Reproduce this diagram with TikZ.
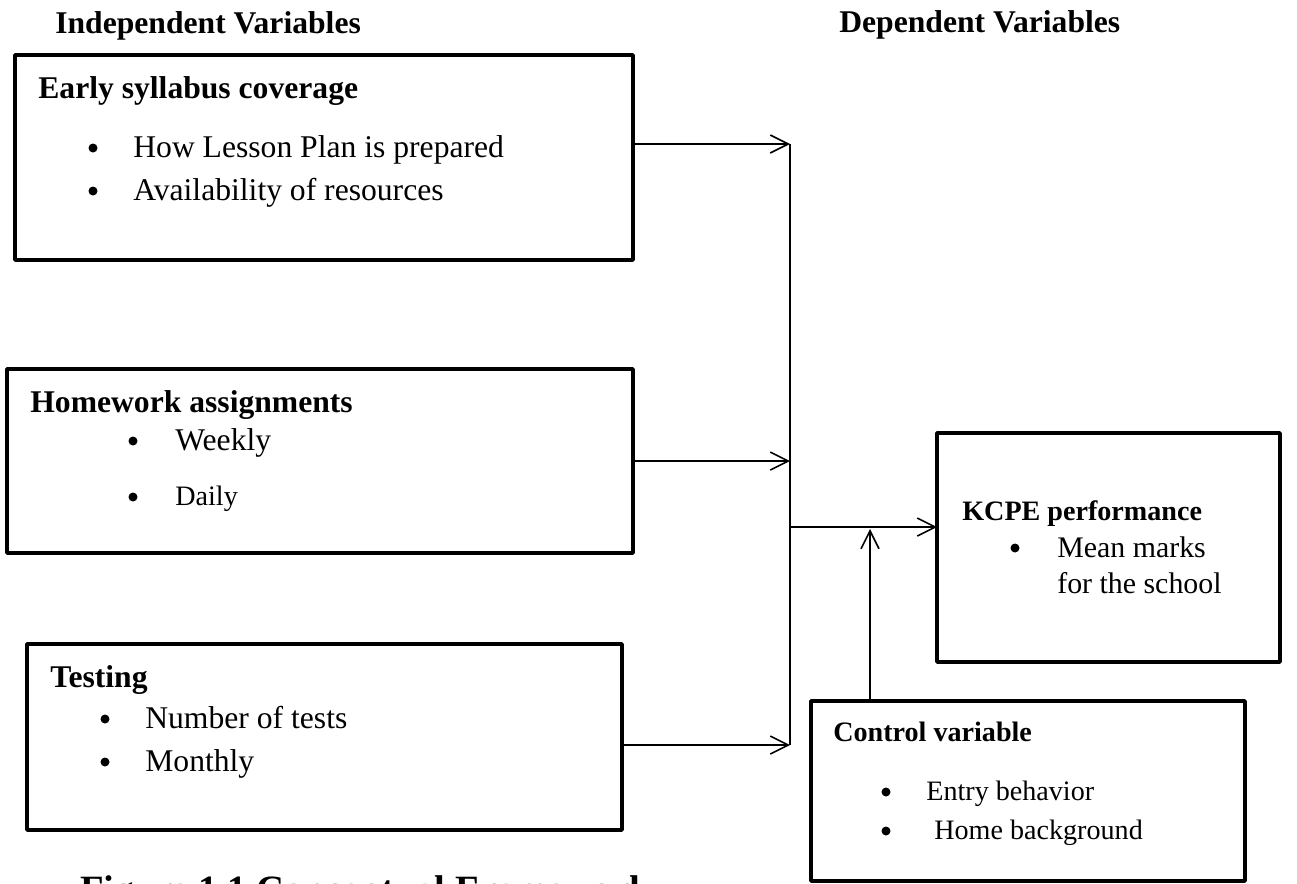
\documentclass[tikz,border=0pt]{standalone}
\usepackage{fontspec}
\setmainfont{Liberation Serif}
\usetikzlibrary{arrows.meta}

\tikzset{
  box/.style={draw, line width=2.2pt, line join=round, anchor=north west, inner sep=0pt, outer sep=0pt},
  head/.style={anchor=base west, inner sep=0pt, font=\fontsize{18}{20}\selectfont\bfseries},
  smallhead/.style={anchor=base west, inner sep=0pt, font=\fontsize{16}{18}\selectfont\bfseries},
  item/.style={anchor=base west, inner sep=0pt, font=\fontsize{18}{20}\selectfont},
  smallitem/.style={anchor=base west, inner sep=0pt, font=\fontsize{16}{18}\selectfont},
  dot/.style={circle, fill, inner sep=0pt, minimum size=0.18cm},
  link/.style={line width=0.9pt, -{Straight Barb[length=3.6mm,width=3.6mm,line width=0.9pt]}},
}

\begin{document}
\begin{tikzpicture}[x=0.02cm, y=-0.02cm]
\useasboundingbox (0,0) rectangle (1297,883);

% column headings
\node[head] (indep) at (55,33) {Independent Variables};
\node[head] (dep) at (839,32) {Dependent Variables};

% independent variables
\node[box, minimum width=12.36cm, minimum height=4.1cm] (syll) at (15,55) {};
\node[head] (syllT) at (38,98) {Early syllabus coverage};
\node[dot] (s1) at (93,148) {};
\node[item] (s1T) at (133,157) {How Lesson Plan is prepared};
\node[dot] (s2) at (93,191) {};
\node[item] (s2T) at (133,200) {Availability of resources};

\node[box, minimum width=12.52cm, minimum height=3.68cm] (home) at (7,369) {};
\node[head] (homeT) at (30,412) {Homework assignments};
\node[dot] (h1) at (133,441) {};
\node[item] (h1T) at (175,450) {Weekly};
\node[dot] (h2) at (133,497) {};
\node[smallitem] (h2T) at (175,505) {Daily};

\node[box, minimum width=11.9cm, minimum height=3.72cm] (test) at (27,644) {};
\node[head] (testT) at (50,687) {Testing};
\node[dot] (t1) at (105,719) {};
\node[item] (t1T) at (145,728) {Number of tests};
\node[dot] (t2) at (105,762) {};
\node[item] (t2T) at (145,771) {Monthly};

% dependent and control variables
\node[box, minimum width=6.86cm, minimum height=4.58cm] (kcpe) at (937,433) {};
\node[smallhead] (kcpeT) at (962,520) {KCPE performance};
\node[dot] (k1) at (1015,548) {};
\node[item, font=\fontsize{17}{19}\selectfont] (k1T) at (1057,557) {Mean marks};
\node[item, font=\fontsize{17}{19}\selectfont] (k2T) at (1057,593) {for the school};

\node[box, minimum width=8.68cm, minimum height=3.6cm] (ctrl) at (811,701) {};
\node[smallhead] (ctrlT) at (833,741) {Control variable};
\node[dot] (c1) at (886,792) {};
\node[smallitem] (c1T) at (926,800) {Entry behavior};
\node[dot] (c2) at (886,831) {};
\node[smallitem] (c2T) at (934,839) {Home background};

\node[anchor=base west, inner sep=0pt, font=\fontsize{22}{24}\selectfont\bfseries] (cap) at (80,902) {Figure 1.1 Conceptual Framework};

% connectors
\coordinate (b1) at (790,144);
\coordinate (b2) at (790,461);
\coordinate (b3) at (790,745);
\coordinate (j) at (790,527);
\coordinate (u) at (870,529);

\path[draw,link] (syll.east |- b1) -- (b1);
\path[draw,link] (home.east |- b2) -- (b2);
\path[draw,link] (test.east |- b3) -- (b3);
\path[draw,line width=0.9pt] (b1) -- (b3);
\path[draw,link] (j) -- (kcpe.west |- j);
\path[draw,link] (ctrl.north -| u) -- (u);
\end{tikzpicture}
\end{document}
